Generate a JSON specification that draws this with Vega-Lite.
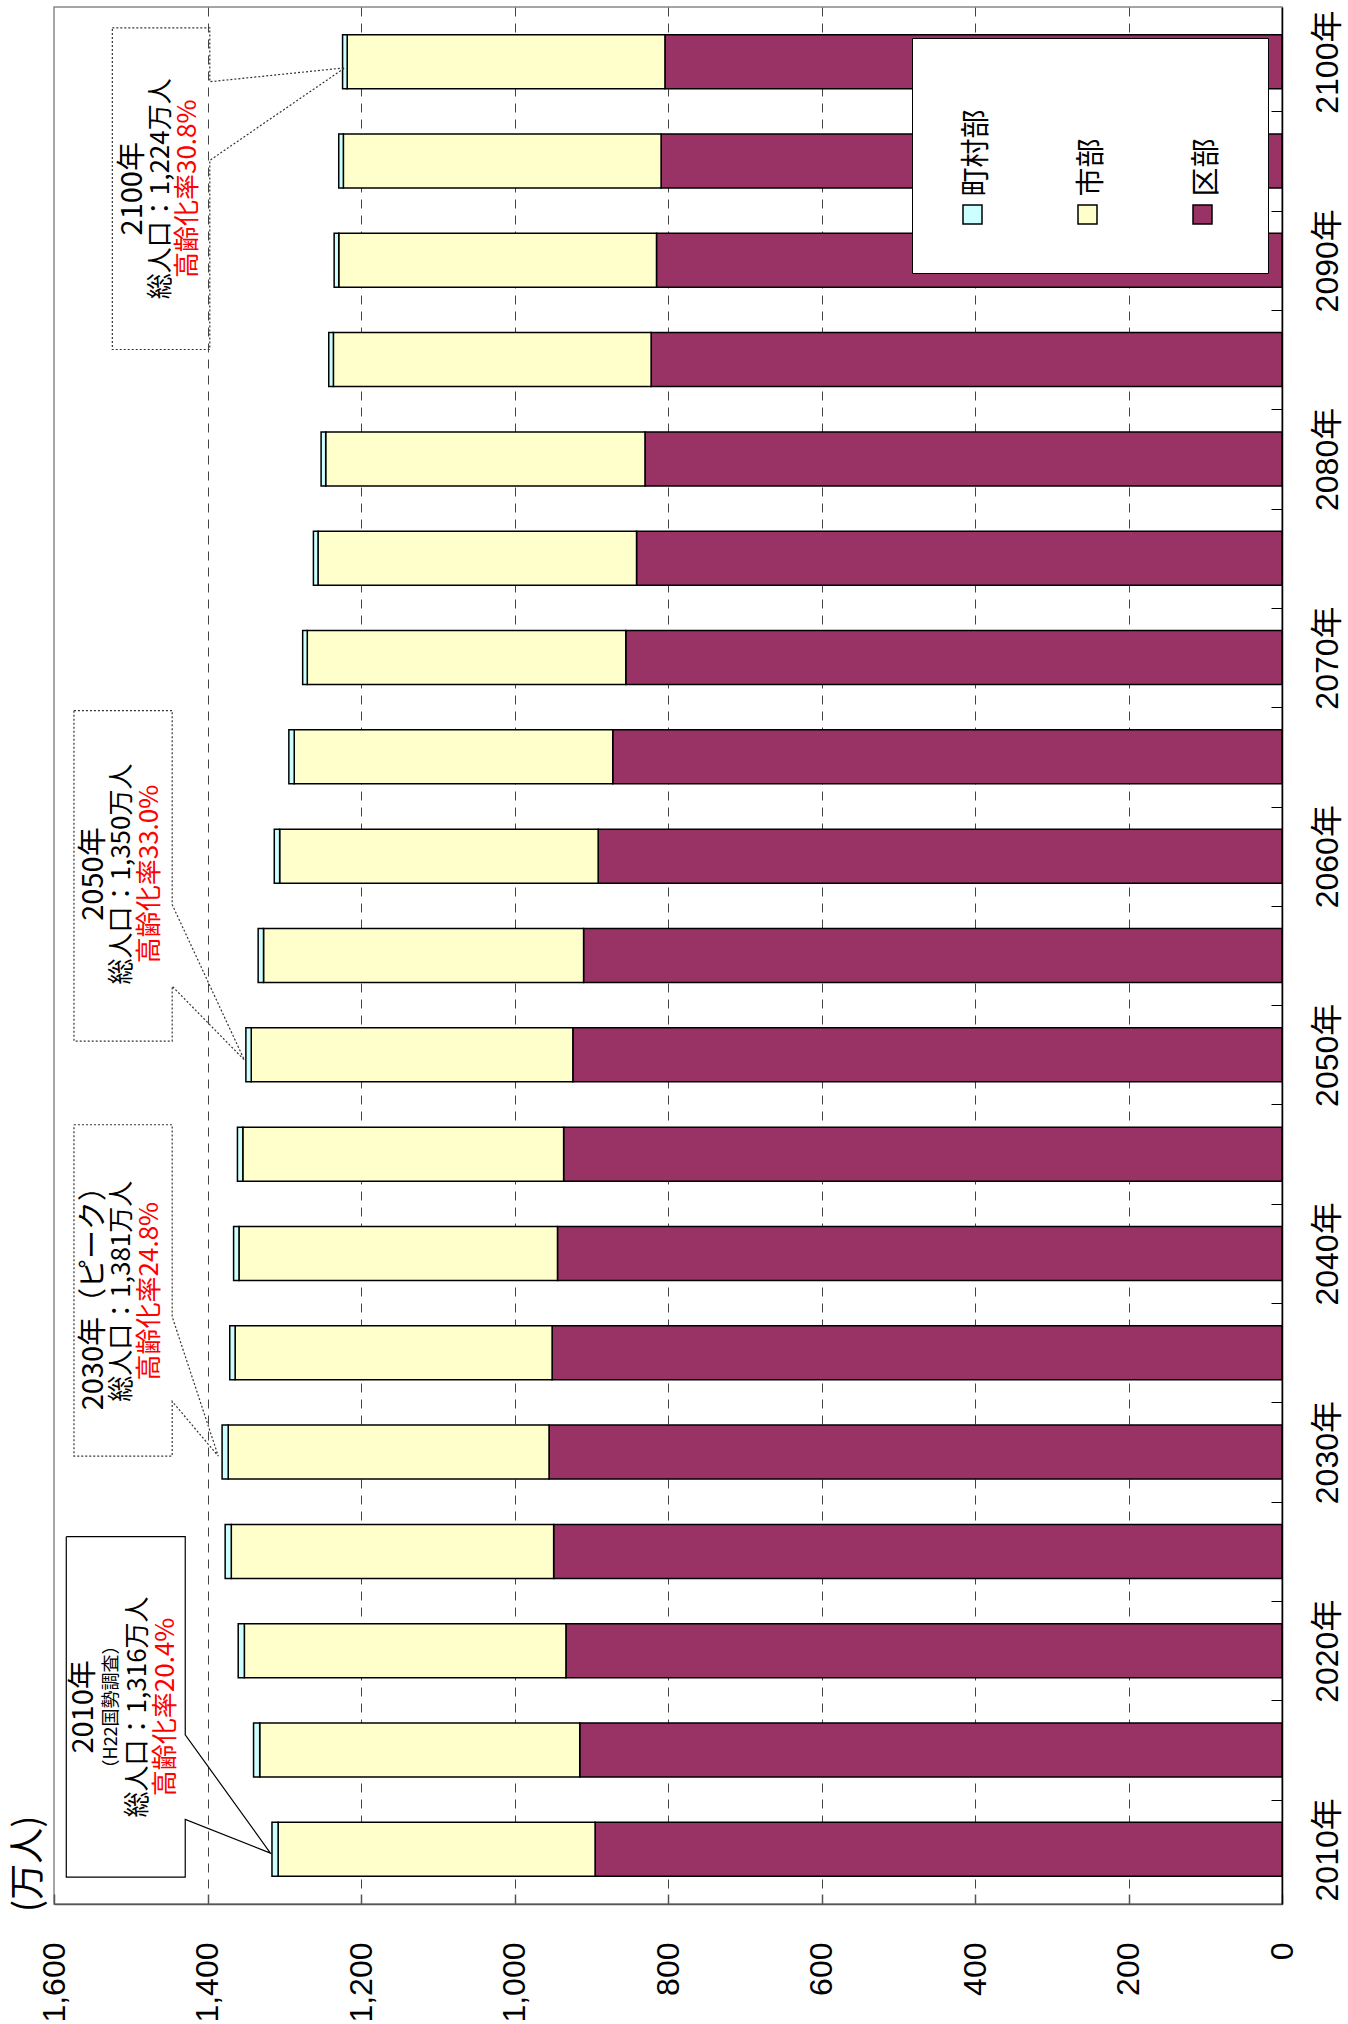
{
  "$schema": "https://vega.github.io/schema/vega-lite/v6.json",
  "width": 1228,
  "height": 1897,
  "autosize": {"type": "none"},
  "padding": {"left": 54, "top": 7, "right": 66, "bottom": 120},
  "background": "#ffffff",
  "title": {"text": "(万人)", "orient": "left", "anchor": "start", "frame": "group", "offset": -10, "dx": -8, "fontSize": 36, "font": "Noto Sans CJK JP", "fontWeight": "normal", "color": "#000000"},
  "config": {"view": {"stroke": "#888888", "strokeWidth": 1.5}, "font": "Noto Sans CJK JP"},
  "datasets": {
    "pop": [
      {"year": 2010, "area": "区部", "pop": 895}, {"year": 2010, "area": "市部", "pop": 413}, {"year": 2010, "area": "町村部", "pop": 8},
      {"year": 2015, "area": "区部", "pop": 915}, {"year": 2015, "area": "市部", "pop": 417}, {"year": 2015, "area": "町村部", "pop": 8},
      {"year": 2020, "area": "区部", "pop": 933}, {"year": 2020, "area": "市部", "pop": 419}, {"year": 2020, "area": "町村部", "pop": 8},
      {"year": 2025, "area": "区部", "pop": 949}, {"year": 2025, "area": "市部", "pop": 420}, {"year": 2025, "area": "町村部", "pop": 8},
      {"year": 2030, "area": "区部", "pop": 955}, {"year": 2030, "area": "市部", "pop": 418}, {"year": 2030, "area": "町村部", "pop": 8},
      {"year": 2035, "area": "区部", "pop": 951}, {"year": 2035, "area": "市部", "pop": 413}, {"year": 2035, "area": "町村部", "pop": 7},
      {"year": 2040, "area": "区部", "pop": 944}, {"year": 2040, "area": "市部", "pop": 415}, {"year": 2040, "area": "町村部", "pop": 7},
      {"year": 2045, "area": "区部", "pop": 936}, {"year": 2045, "area": "市部", "pop": 418}, {"year": 2045, "area": "町村部", "pop": 7},
      {"year": 2050, "area": "区部", "pop": 924}, {"year": 2050, "area": "市部", "pop": 419}, {"year": 2050, "area": "町村部", "pop": 7},
      {"year": 2055, "area": "区部", "pop": 910}, {"year": 2055, "area": "市部", "pop": 417}, {"year": 2055, "area": "町村部", "pop": 7},
      {"year": 2060, "area": "区部", "pop": 891}, {"year": 2060, "area": "市部", "pop": 415}, {"year": 2060, "area": "町村部", "pop": 7},
      {"year": 2065, "area": "区部", "pop": 872}, {"year": 2065, "area": "市部", "pop": 415}, {"year": 2065, "area": "町村部", "pop": 7},
      {"year": 2070, "area": "区部", "pop": 855}, {"year": 2070, "area": "市部", "pop": 415}, {"year": 2070, "area": "町村部", "pop": 6},
      {"year": 2075, "area": "区部", "pop": 841}, {"year": 2075, "area": "市部", "pop": 415}, {"year": 2075, "area": "町村部", "pop": 6},
      {"year": 2080, "area": "区部", "pop": 830}, {"year": 2080, "area": "市部", "pop": 416}, {"year": 2080, "area": "町村部", "pop": 6},
      {"year": 2085, "area": "区部", "pop": 822}, {"year": 2085, "area": "市部", "pop": 414}, {"year": 2085, "area": "町村部", "pop": 6},
      {"year": 2090, "area": "区部", "pop": 815}, {"year": 2090, "area": "市部", "pop": 414}, {"year": 2090, "area": "町村部", "pop": 6},
      {"year": 2095, "area": "区部", "pop": 809}, {"year": 2095, "area": "市部", "pop": 414}, {"year": 2095, "area": "町村部", "pop": 6},
      {"year": 2100, "area": "区部", "pop": 804}, {"year": 2100, "area": "市部", "pop": 414}, {"year": 2100, "area": "町村部", "pop": 6}
    ],
    "balloonSolid": [
      {"b": "2010", "i": 0, "v": 1584, "Y": 2025.74},
      {"b": "2010", "i": 1, "v": 1429, "Y": 2025.74},
      {"b": "2010", "i": 2, "v": 1429, "Y": 2015.77},
      {"b": "2010", "i": 3, "v": 1318, "Y": 2009.81},
      {"b": "2010", "i": 4, "v": 1429, "Y": 2011.51},
      {"b": "2010", "i": 5, "v": 1429, "Y": 2008.6},
      {"b": "2010", "i": 6, "v": 1584, "Y": 2008.6},
      {"b": "2010", "i": 7, "v": 1584, "Y": 2025.74}
    ],
    "balloonDotted": [
      {"b": "2030", "i": 0, "v": 1574, "Y": 2046.48},
      {"b": "2030", "i": 1, "v": 1446, "Y": 2046.48},
      {"b": "2030", "i": 2, "v": 1446, "Y": 2036.81},
      {"b": "2030", "i": 3, "v": 1386, "Y": 2029.8},
      {"b": "2030", "i": 4, "v": 1446, "Y": 2032.55},
      {"b": "2030", "i": 5, "v": 1446, "Y": 2029.8},
      {"b": "2030", "i": 6, "v": 1574, "Y": 2029.8},
      {"b": "2030", "i": 7, "v": 1574, "Y": 2046.48},
      {"b": "2050", "i": 0, "v": 1574, "Y": 2067.33},
      {"b": "2050", "i": 1, "v": 1446, "Y": 2067.33},
      {"b": "2050", "i": 2, "v": 1446, "Y": 2057.56},
      {"b": "2050", "i": 3, "v": 1352, "Y": 2049.74},
      {"b": "2050", "i": 4, "v": 1446, "Y": 2053.45},
      {"b": "2050", "i": 5, "v": 1446, "Y": 2050.69},
      {"b": "2050", "i": 6, "v": 1574, "Y": 2050.69},
      {"b": "2050", "i": 7, "v": 1574, "Y": 2067.33},
      {"b": "2100", "i": 0, "v": 1524, "Y": 2101.7},
      {"b": "2100", "i": 1, "v": 1397, "Y": 2101.7},
      {"b": "2100", "i": 2, "v": 1397, "Y": 2098.99},
      {"b": "2100", "i": 3, "v": 1221, "Y": 2099.69},
      {"b": "2100", "i": 4, "v": 1397, "Y": 2095.03},
      {"b": "2100", "i": 5, "v": 1397, "Y": 2085.51},
      {"b": "2100", "i": 6, "v": 1524, "Y": 2085.51},
      {"b": "2100", "i": 7, "v": 1524, "Y": 2101.7}
    ],
    "heads": [
      {"label": "2010年", "v": 1561, "Y": 2017.17},
      {"label": "2030年（ピーク）", "v": 1548, "Y": 2038.1},
      {"label": "2050年", "v": 1548, "Y": 2059.1},
      {"label": "2100年", "v": 1497, "Y": 2093.6}
    ],
    "subs": [
      {"label": "（H22国勢調査）", "v": 1524, "Y": 2017.17}
    ],
    "pops": [
      {"label": "総人口：1,316万人", "v": 1490.5, "Y": 2017.17},
      {"label": "総人口：1,381万人", "v": 1511.4, "Y": 2038.1},
      {"label": "総人口：1,350万人", "v": 1511.4, "Y": 2059.1},
      {"label": "総人口：1,224万人", "v": 1460.6, "Y": 2093.6}
    ],
    "rates": [
      {"label": "高齢化率20.4%", "v": 1454, "Y": 2017.17},
      {"label": "高齢化率24.8%", "v": 1474.9, "Y": 2038.1},
      {"label": "高齢化率33.0%", "v": 1474.9, "Y": 2059.1},
      {"label": "高齢化率30.8%", "v": 1425.4, "Y": 2093.6}
    ]
  },
  "layer": [
    {
      "data": {"name": "pop"},
      "mark": {"type": "bar", "orient": "horizontal", "size": 54, "stroke": "#000000", "strokeWidth": 1.5},
      "encoding": {
        "y": {
          "field": "year", "type": "quantitative",
          "scale": {"domain": [2007.5, 2102.5], "nice": false, "zero": false},
          "axis": {
            "orient": "right", "title": null,
            "values": [2010, 2012.5, 2017.5, 2020, 2022.5, 2027.5, 2030, 2032.5, 2037.5, 2040, 2042.5, 2047.5, 2050, 2052.5, 2057.5, 2060, 2062.5, 2067.5, 2070, 2072.5, 2077.5, 2080, 2082.5, 2087.5, 2090, 2092.5, 2097.5, 2100],
            "labelExpr": "datum.value % 10 === 0 ? datum.value + '年' : ''",
            "labelAngle": 270, "labelAlign": "center", "labelBaseline": "top",
            "labelFont": "Liberation Sans, Noto Sans CJK JP", "labelFontSize": 32, "labelColor": "#000000",
            "labelPadding": 41, "labelOverlap": false, "labelFlush": false,
            "grid": false, "domainColor": "#000000", "domainWidth": 1.5,
            "tickColor": "#000000", "tickSize": -11, "tickWidth": 1,
            "tickOpacity": {"condition": {"test": "datum.value % 5 === 0", "value": 0}, "value": 1}
          }
        },
        "x": {
          "field": "pop", "type": "quantitative", "stack": "zero",
          "scale": {"domain": [0, 1600], "reverse": true, "nice": false},
          "axis": {
            "orient": "bottom", "title": null,
            "values": [0, 200, 400, 600, 800, 1000, 1200, 1400, 1600],
            "labelExpr": "format(datum.value, ',')",
            "labelAngle": 270, "labelAlign": "right", "labelBaseline": "middle",
            "labelFont": "Liberation Sans", "labelFontSize": 32, "labelColor": "#000000",
            "labelPadding": 48, "labelFlush": false, "labelOverlap": false,
            "grid": true, "gridColor": "#444444", "gridDash": [9, 7], "gridWidth": 1,
            "gridOpacity": {"condition": {"test": "datum.value === 0 || datum.value === 1600", "value": 0}, "value": 1},
            "domainColor": "#555555", "domainWidth": 1.5,
            "tickColor": "#555555", "tickSize": -10, "tickWidth": 1.5
          }
        },
        "color": {
          "field": "area", "type": "nominal",
          "scale": {"domain": ["町村部", "市部", "区部"], "range": ["#CCFFFF", "#FFFFCC", "#993366"]},
          "legend": {
            "orient": "none", "legendX": 858, "legendY": 31, "direction": "horizontal",
            "title": " ", "titleFontSize": 86, "titlePadding": 30, "titleColor": "#ffffff",
            "symbolType": "square", "symbolSize": 361,
            "symbolStrokeColor": "#000000", "symbolStrokeWidth": 1.5, "symbolOpacity": 1,
            "labelFont": "Noto Sans CJK JP", "labelFontSize": 29, "labelColor": "#000000",
            "labelOffset": -10, "labelLimit": 0,
            "columnPadding": 80, "padding": 46,
            "fillColor": "#ffffff", "strokeColor": "#000000",
            "encode": {
              "labels": {"update": {"angle": {"value": -90}, "align": {"value": "left"}, "baseline": {"value": "middle"}, "dx": {"value": 18}}}
            }
          }
        },
        "order": {"field": "area", "sort": "ascending"}
      }
    },
    {
      "data": {"name": "balloonSolid"},
      "mark": {"type": "line", "stroke": "#000000", "strokeWidth": 1.2},
      "encoding": {
        "x": {"field": "v", "type": "quantitative"},
        "y": {"field": "Y", "type": "quantitative"},
        "order": {"field": "i"},
        "detail": {"field": "b"}
      }
    },
    {
      "data": {"name": "balloonDotted"},
      "mark": {"type": "line", "stroke": "#333333", "strokeWidth": 1.2, "strokeDash": [2, 2]},
      "encoding": {
        "x": {"field": "v", "type": "quantitative"},
        "y": {"field": "Y", "type": "quantitative"},
        "order": {"field": "i"},
        "detail": {"field": "b"}
      }
    },
    {
      "data": {"name": "heads"},
      "mark": {"type": "text", "angle": 270, "align": "center", "baseline": "middle", "font": "Noto Sans CJK JP", "fontSize": 29, "color": "#000000"},
      "encoding": {
        "x": {"field": "v", "type": "quantitative"},
        "y": {"field": "Y", "type": "quantitative"},
        "text": {"field": "label"}
      }
    },
    {
      "data": {"name": "subs"},
      "mark": {"type": "text", "angle": 270, "align": "center", "baseline": "middle", "font": "Noto Sans CJK JP", "fontSize": 18, "color": "#000000"},
      "encoding": {
        "x": {"field": "v", "type": "quantitative"},
        "y": {"field": "Y", "type": "quantitative"},
        "text": {"field": "label"}
      }
    },
    {
      "data": {"name": "pops"},
      "mark": {"type": "text", "angle": 270, "align": "center", "baseline": "middle", "font": "Noto Sans CJK JP", "fontSize": 26, "color": "#000000"},
      "encoding": {
        "x": {"field": "v", "type": "quantitative"},
        "y": {"field": "Y", "type": "quantitative"},
        "text": {"field": "label"}
      }
    },
    {
      "data": {"name": "rates"},
      "mark": {"type": "text", "angle": 270, "align": "center", "baseline": "middle", "font": "Noto Sans CJK JP", "fontSize": 26, "color": "#FF0000"},
      "encoding": {
        "x": {"field": "v", "type": "quantitative"},
        "y": {"field": "Y", "type": "quantitative"},
        "text": {"field": "label"}
      }
    }
  ]
}
